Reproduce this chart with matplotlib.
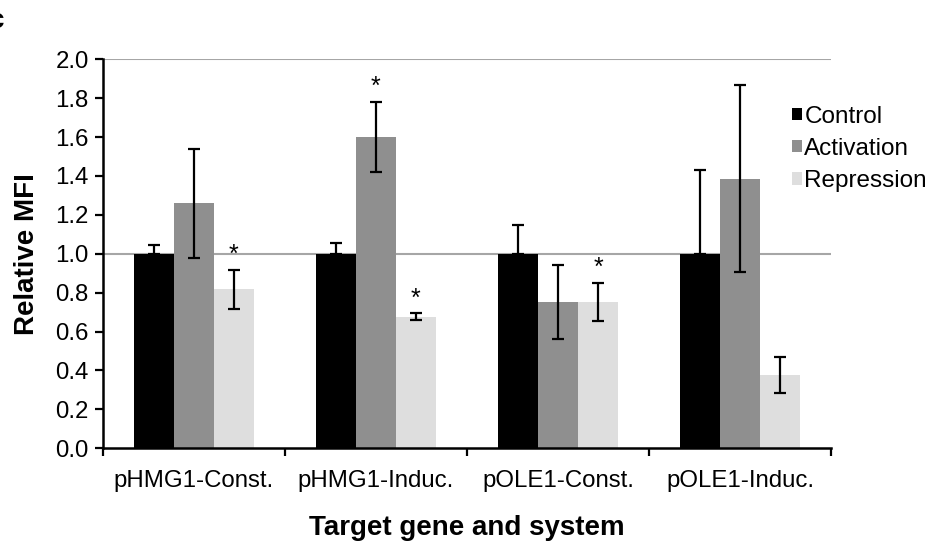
import numpy as np
import matplotlib
matplotlib.use("Agg")
import matplotlib.pyplot as plt
from matplotlib.patches import Patch

plt.rcParams['font.family'] = ['Liberation Sans', 'DejaVu Sans']

categories = ['pHMG1-Const.', 'pHMG1-Induc.', 'pOLE1-Const.', 'pOLE1-Induc.']
series = ['Control', 'Activation', 'Repression']
control = [1.0, 1.0, 1.0, 1.0]
control_err = [0.045, 0.054, 0.146, 0.428]
activation = [1.26, 1.60, 0.75, 1.385]
activation_err = [0.28, 0.18, 0.19, 0.48]
repression = [0.818, 0.676, 0.752, 0.377]
repression_err = [0.10, 0.017, 0.10, 0.094]
# which bars carry a significance star
star_activation = [False, True, False, False]
star_repression = [True, True, True, False]

colors = ['#000000', '#8f8f8f', '#dedede']

fig = plt.figure(figsize=(9.33, 5.48), dpi=100)
ax = fig.add_axes([0.110, 0.182, 0.781, 0.710])

x = np.arange(len(categories))
w = 0.22

ax.axhline(1.0, color='#a6a6a6', lw=1.5, zorder=1)
ax.axhline(2.0, color='#a6a6a6', lw=1.5, zorder=1)

ax.bar(x - w, control, w, color=colors[0], zorder=2)
ax.bar(x, activation, w, color=colors[1], zorder=2)
ax.bar(x + w, repression, w, color=colors[2], zorder=2)

ekw = dict(fmt='none', ecolor='black', elinewidth=1.6, capsize=4, capthick=1.6, zorder=3)
ax.errorbar(x - w, control, yerr=[np.zeros(len(control)), control_err], **ekw)
ax.errorbar(x, activation, yerr=activation_err, **ekw)
ax.errorbar(x + w, repression, yerr=repression_err, **ekw)

for i in range(len(categories)):
    if star_activation[i]:
        ax.annotate('*', (x[i], activation[i] + activation_err[i]), xytext=(0, 2),
                    textcoords='offset points', ha='center', va='bottom', fontsize=18)
    if star_repression[i]:
        ax.annotate('*', (x[i] + w, repression[i] + repression_err[i]), xytext=(0, 2),
                    textcoords='offset points', ha='center', va='bottom', fontsize=18)

ax.set_xlim(-0.5, len(categories) - 0.5)
ax.set_ylim(0, 2.0)
ax.set_yticks(np.arange(0, 2.01, 0.2))
ax.set_yticklabels(['%.1f' % v for v in np.arange(0, 2.01, 0.2)])
ax.set_xticks(np.arange(-0.5, len(categories), 1.0))
ax.set_xticklabels([])
ax.set_xticks(x, minor=True)
ax.set_xticklabels(categories, minor=True)
ax.tick_params(axis='x', which='major', length=6, width=1.6, direction='out')
ax.tick_params(axis='x', which='minor', length=0, pad=16, labelsize=17.3)
ax.tick_params(axis='y', length=6, width=1.6, direction='out', labelsize=17.3, pad=4)

for s in ['top', 'right']:
    ax.spines[s].set_visible(False)
for s in ['left', 'bottom']:
    ax.spines[s].set_linewidth(1.8)

ax.set_ylabel('Relative MFI', fontsize=20, fontweight='bold', labelpad=11)
ax.set_xlabel('Target gene and system', fontsize=20, fontweight='bold', labelpad=16)

handles = [Patch(facecolor=c, edgecolor='none') for c in colors]
fig.legend(handles, series, loc='upper left', bbox_to_anchor=(0.849, 0.807),
           frameon=False, fontsize=17.5, handlelength=0.4, handleheight=0.4,
           handletextpad=0.1, labelspacing=0.42, borderpad=0, borderaxespad=0)

fig.text(-0.012, 0.985, 'c', fontsize=20, fontweight='bold', va='top', ha='left')

fig.savefig('out.png', dpi=100)
